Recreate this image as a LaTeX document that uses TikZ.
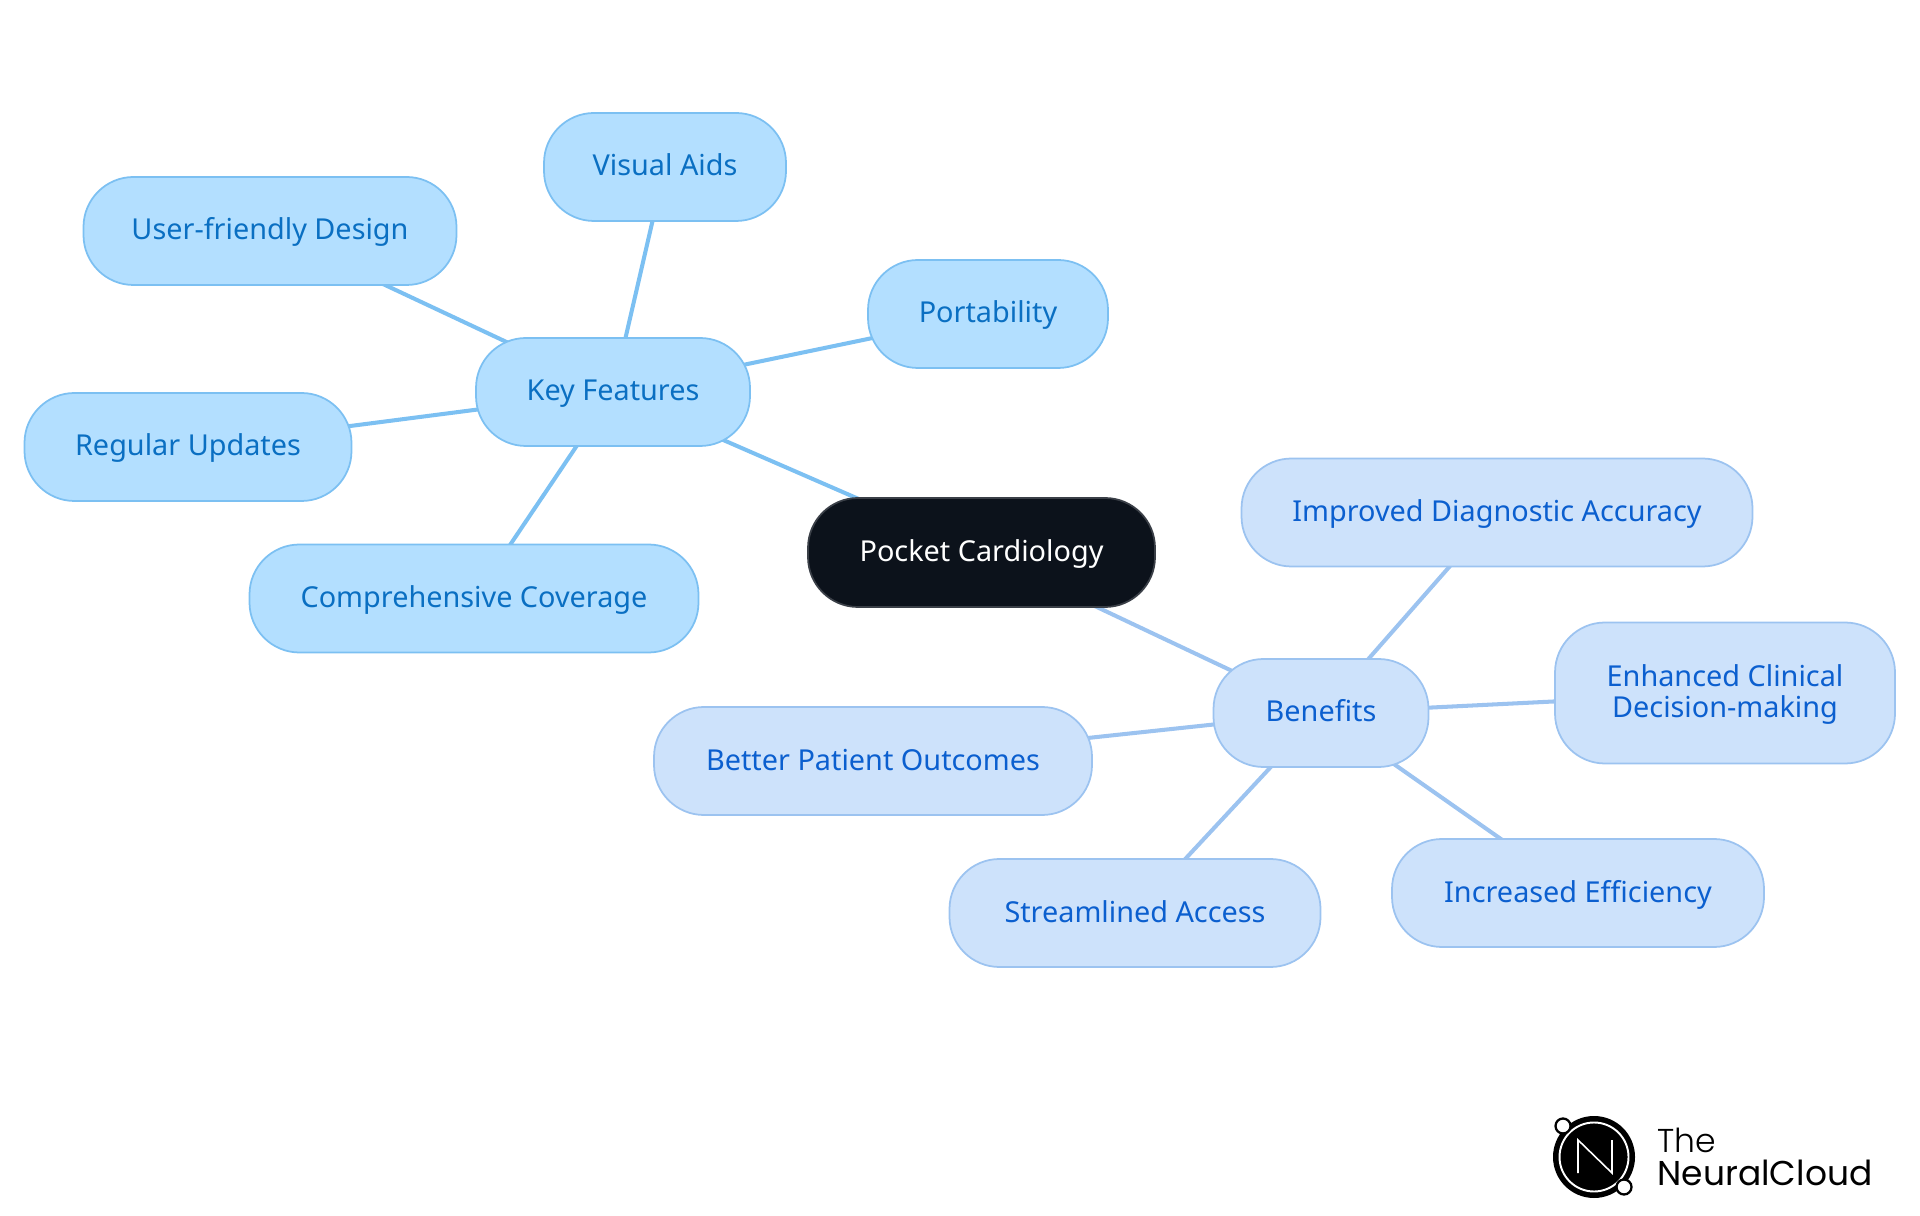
\documentclass[tikz,border=0pt]{standalone}
\usepackage{fontspec}
\setmainfont{Noto Sans}
\newfontfamily\logofont{Poppins}
\newfontfamily\logothin{Poppins}[UprightFont=* Light]
\usetikzlibrary{backgrounds}
\definecolor{rootfill}{HTML}{0C121B}
\definecolor{rootline}{HTML}{3A3F47}
\definecolor{keyfill}{HTML}{B3DFFF}
\definecolor{keyline}{HTML}{7CC0F2}
\definecolor{keytext}{HTML}{0A6FC2}
\definecolor{benefitfill}{HTML}{CDE2FB}
\definecolor{benefitline}{HTML}{9CC3F0}
\definecolor{benefittext}{HTML}{0B5FCF}
\tikzset{
    mapnode/.style={draw, line width=0.5pt, rounded corners=0.5cm, minimum height=1.08cm, inner sep=0pt, align=center, text height=0.30cm, text depth=0.12cm, font=\fontsize{8.2}{9.1}\selectfont},
    rootnode/.style={mapnode, fill=rootfill, draw=rootline, text=white},
    keynode/.style={mapnode, fill=keyfill, draw=keyline, text=keytext},
    benefitnode/.style={mapnode, fill=benefitfill, draw=benefitline, text=benefittext},
    keyedge/.style={draw=keyline, line width=1.15pt},
    benefitedge/.style={draw=benefitline, line width=1.15pt}
}
\begin{document}
\begin{tikzpicture}
    \useasboundingbox (0,0) rectangle (19.2,12.15);
    \node[rootnode, minimum width=3.47cm, minimum height=1.09cm] (pocket) at (9.815,6.625) {Pocket Cardiology};
    \node[keynode, minimum width=2.74cm] (features) at (6.13,8.23) {Key Features};
    \node[keynode, minimum width=2.42cm] (visual) at (6.65,10.48) {Visual Aids};
    \node[keynode, minimum width=3.73cm] (design) at (2.70,9.84) {User-friendly Design};
    \node[keynode, minimum width=2.40cm] (portability) at (9.88,9.01) {Portability};
    \node[keynode, minimum width=3.27cm] (updates) at (1.88,7.68) {Regular Updates};
    \node[keynode, minimum width=4.49cm] (coverage) at (4.74,6.165) {Comprehensive Coverage};
    \node[benefitnode, minimum width=2.15cm] (benefits) at (13.21,5.02) {Benefits};
    \node[benefitnode, minimum width=5.11cm] (accuracy) at (14.97,7.025) {Improved Diagnostic Accuracy};
    \node[benefitnode, minimum width=3.40cm, minimum height=1.41cm, text height=0.62cm] (decision) at (17.25,5.22) {Enhanced Clinical\\Decision-making};
    \node[benefitnode, minimum width=4.38cm] (outcomes) at (8.73,4.54) {Better Patient Outcomes};
    \node[benefitnode, minimum width=3.71cm] (access) at (11.35,3.02) {Streamlined Access};
    \node[benefitnode, minimum width=3.72cm] (efficiency) at (15.78,3.22) {Increased Efficiency};
    \begin{pgfonlayer}{background}
    \draw[keyedge] (pocket.center) -- (features.center);
    \foreach \leaf in {visual,design,portability,updates,coverage}
        \draw[keyedge] (features.center) -- (\leaf.center);
    \draw[benefitedge] (pocket.center) -- (benefits.center);
    \foreach \leaf in {accuracy,decision,outcomes,access,efficiency}
        \draw[benefitedge] (benefits.center) -- (\leaf.center);
    \end{pgfonlayer}
    % logo
    \fill[black] (15.94,0.58) coordinate (logomid) circle (0.41);
    \draw[white, line width=0.55pt] (logomid) circle (0.345);
    \draw[white, line width=0.45pt] (15.78,0.42) -- (15.78,0.75) -- (16.12,0.42) -- (16.12,0.75);
    \filldraw[fill=white, draw=black, line width=0.65pt] (15.63,0.89) circle (0.075);
    \filldraw[fill=white, draw=black, line width=0.65pt] (16.24,0.28) circle (0.075);
    \node[anchor=base west, inner sep=0pt, font=\logothin\fontsize{9.4}{11}\selectfont] (logothe) at (16.57,0.63) {The};
    \node[anchor=base west, inner sep=0pt, font=\logofont\fontsize{9.8}{11}\selectfont] (logoname) at (16.57,0.30) {NeuralCloud};
\end{tikzpicture}
\end{document}
